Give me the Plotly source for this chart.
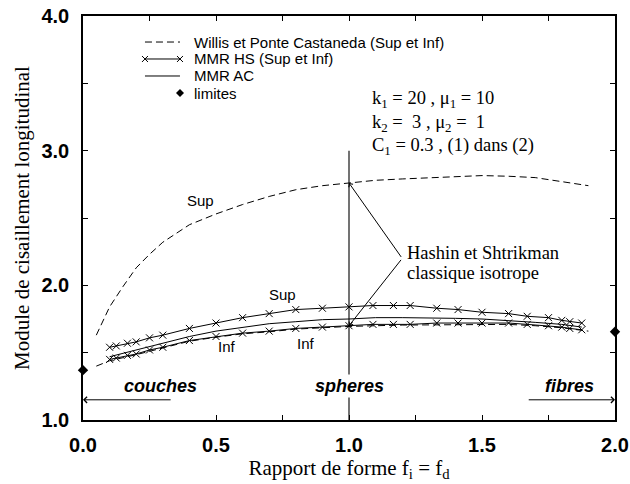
import plotly.graph_objects as go

# ---- data ----
willis_sup_x = [0.05, 0.1, 0.15, 0.2, 0.25, 0.3, 0.4, 0.5, 0.6, 0.7, 0.8, 0.9, 1.0,
                1.1, 1.2, 1.3, 1.4, 1.5, 1.6, 1.7, 1.8, 1.9]
willis_sup_y = [1.63, 1.84, 1.99, 2.13, 2.23, 2.32, 2.45, 2.53, 2.60, 2.66, 2.71, 2.74, 2.76,
                2.78, 2.79, 2.80, 2.81, 2.815, 2.81, 2.80, 2.77, 2.74]
willis_inf_x = [0.05, 0.1, 0.2, 0.3, 0.4, 0.5, 0.6, 0.7, 0.8, 0.9, 1.0, 1.2, 1.4, 1.6, 1.7, 1.8, 1.9]
willis_inf_y = [1.40, 1.44, 1.485, 1.535, 1.585, 1.615, 1.64, 1.655, 1.675, 1.685, 1.695,
                1.705, 1.71, 1.71, 1.70, 1.685, 1.66]

hs_x = [0.10, 0.125, 0.167, 0.20, 0.25, 0.30, 0.40, 0.50, 0.60, 0.70, 0.80, 0.90, 1.00,
        1.09, 1.167, 1.23, 1.33, 1.41, 1.50, 1.60, 1.67, 1.75, 1.80, 1.83, 1.875]
hs_sup = [1.54, 1.55, 1.57, 1.58, 1.61, 1.63, 1.68, 1.72, 1.76, 1.79, 1.82, 1.83, 1.84,
          1.85, 1.85, 1.85, 1.83, 1.82, 1.80, 1.79, 1.77, 1.76, 1.74, 1.73, 1.72]
hs_inf = [1.45, 1.46, 1.48, 1.49, 1.52, 1.54, 1.59, 1.62, 1.645, 1.66, 1.68, 1.69, 1.70,
          1.71, 1.71, 1.71, 1.72, 1.72, 1.72, 1.72, 1.71, 1.70, 1.69, 1.68, 1.67]

ac_x = [0.1, 0.2, 0.3, 0.4, 0.5, 0.6, 0.7, 0.8, 0.9, 1.0, 1.1, 1.2, 1.3, 1.4, 1.5, 1.6,
        1.7, 1.8, 1.875]
ac_y = [1.47, 1.52, 1.575, 1.62, 1.66, 1.69, 1.715, 1.73, 1.745, 1.75, 1.76, 1.76, 1.76,
        1.755, 1.75, 1.74, 1.725, 1.71, 1.69]

lim_x = [0.0, 2.0]
lim_y = [1.37, 1.655]

legend_labels = ["Willis et Ponte Castaneda (Sup et Inf)", "MMR HS (Sup et Inf)",
                 "MMR AC", "limites"]

spheres_x = 1.0
spheres_line_top = 3.0

TIMES = "Liberation Serif, Times New Roman, serif"
HELV = "Liberation Sans, Arial, sans-serif"

fig = go.Figure()

dash = "7px,4px"
fig.add_trace(go.Scatter(x=willis_sup_x, y=willis_sup_y, mode="lines",
                         line=dict(color="black", width=1, dash=dash),
                         name=legend_labels[0], legendgroup="w"))
fig.add_trace(go.Scatter(x=willis_inf_x, y=willis_inf_y, mode="lines",
                         line=dict(color="black", width=1, dash=dash),
                         name=legend_labels[0], legendgroup="w"))
mk = dict(symbol="x-thin", size=7, line=dict(color="black", width=1), color="black")
fig.add_trace(go.Scatter(x=hs_x, y=hs_sup, mode="lines+markers",
                         line=dict(color="black", width=1), marker=mk,
                         name=legend_labels[1], legendgroup="hs"))
fig.add_trace(go.Scatter(x=hs_x, y=hs_inf, mode="lines+markers",
                         line=dict(color="black", width=1), marker=mk,
                         name=legend_labels[1], legendgroup="hs"))
fig.add_trace(go.Scatter(x=ac_x, y=ac_y, mode="lines",
                         line=dict(color="black", width=1), name=legend_labels[2]))
fig.add_trace(go.Scatter(x=lim_x, y=lim_y, mode="markers", cliponaxis=False,
                         marker=dict(symbol="diamond", size=8, color="black"),
                         name=legend_labels[3]))

# vertical line at spheres
fig.add_shape(type="line", x0=spheres_x, x1=spheres_x, y0=1.0, y1=spheres_line_top,
              xref="x", yref="y", line=dict(color="#444", width=1.5), layer="below")

# ---- hand-drawn legend (paper coordinates) ----
PW, PH = 532.0, 404.0
lx0, lx1, ltx = 0.1165, 0.1823, 0.2049
rows = [0.9356, 0.8936, 0.8515, 0.8094]
fig.add_shape(type="line", xref="paper", yref="paper", x0=lx0, x1=lx1, y0=rows[0], y1=rows[0],
              line=dict(color="black", width=1, dash=dash))
fig.add_shape(type="line", xref="paper", yref="paper", x0=lx0, x1=lx1, y0=rows[1], y1=rows[1],
              line=dict(color="black", width=1))
for cx in (lx0, lx1):
    dx, dy = 3 / PW, 3 / PH
    fig.add_shape(type="line", xref="paper", yref="paper", x0=cx - dx, x1=cx + dx,
                  y0=rows[1] - dy, y1=rows[1] + dy, line=dict(color="black", width=1))
    fig.add_shape(type="line", xref="paper", yref="paper", x0=cx - dx, x1=cx + dx,
                  y0=rows[1] + dy, y1=rows[1] - dy, line=dict(color="black", width=1))
fig.add_shape(type="line", xref="paper", yref="paper", x0=lx0, x1=lx1, y0=rows[2], y1=rows[2],
              line=dict(color="black", width=1))
ddx, ddy = 4 / PW, 4 / PH
fig.add_shape(type="path", xref="paper", yref="paper",
              path=f"M {lx1},{rows[3] + ddy} L {lx1 + ddx},{rows[3]} L {lx1},{rows[3] - ddy} "
                   f"L {lx1 - ddx},{rows[3]} Z",
              fillcolor="black", line=dict(color="black", width=0))

ann = []
for lab, ry in zip(legend_labels, rows):
    ann.append(dict(x=ltx, y=ry, xref="paper", yref="paper", text=lab, showarrow=False,
                    xanchor="left", yanchor="middle",
                    font=dict(family=HELV, size=15, color="black")))

def txt(x, y, t, size=15, font=HELV, **kw):
    ann.append(dict(x=x, y=y, xref="x", yref="y", text=t, showarrow=False,
                    font=dict(family=font, size=size, color="black"), **kw))

txt(0.44, 2.63, "Sup")
txt(0.75, 1.93, "Sup")
txt(0.54, 1.545, "Inf")
txt(0.84, 1.57, "Inf")

txt(1.08, 3.38, "k<sub>1</sub> = 20 , μ<sub>1</sub> = 10", size=18.5, font=TIMES, xanchor="left")
txt(1.08, 3.20, "k<sub>2</sub> =  3 , μ<sub>2</sub> =  1", size=18.5, font=TIMES, xanchor="left")
txt(1.08, 3.03, "C<sub>1</sub> = 0.3 , (1) dans (2)", size=18.5, font=TIMES, xanchor="left")

txt(1.21, 2.24, "Hashin et Shtrikman", size=18.5, font=TIMES, xanchor="left")
txt(1.21, 2.09, "classique isotrope", size=18.5, font=TIMES, xanchor="left")

bi = "<b><i>%s</i></b>"
txt(0.29, 1.25, bi % "couches", size=18)
ann.append(dict(x=1.0, y=1.25, xref="x", yref="y", text=bi % "spheres", showarrow=False,
                bgcolor="white", font=dict(family=HELV, size=18, color="black")))
txt(1.83, 1.25, bi % "fibres", size=18)

# arrows
arrow_y = 1.15
ann.append(dict(x=0.0, y=arrow_y, ax=0.335, ay=arrow_y, xref="x", yref="y", axref="x", ayref="y",
                text="", showarrow=True, arrowhead=4, arrowsize=1.2, arrowwidth=1, arrowcolor="black"))
ann.append(dict(x=2.0, y=arrow_y, ax=1.67, ay=arrow_y, xref="x", yref="y", axref="x", ayref="y",
                text="", showarrow=True, arrowhead=4, arrowsize=1.2, arrowwidth=1, arrowcolor="black"))
vx, vy = 1.2, 2.2
ann.append(dict(x=1.0, y=2.76, ax=vx, ay=vy, xref="x", yref="y", axref="x", ayref="y",
                text="", showarrow=True, arrowhead=4, arrowsize=1, arrowwidth=1, arrowcolor="black"))
ann.append(dict(x=1.0, y=1.70, ax=vx, ay=vy, xref="x", yref="y", axref="x", ayref="y",
                text="", showarrow=True, arrowhead=4, arrowsize=1, arrowwidth=1, arrowcolor="black"))

axis_common = dict(showline=True, linecolor="black", linewidth=1.5, mirror="ticks",
                   ticks="inside", ticklen=5, tickcolor="black", tickwidth=1,
                   showgrid=False, zeroline=False, automargin=False,
                   ticklabeloverflow="allow",
                   tickfont=dict(family=HELV, size=20, color="black"))

fig.update_layout(
    width=630, height=484,
    margin=dict(l=83, r=15, t=16, b=64),
    paper_bgcolor="white", plot_bgcolor="white",
    annotations=ann,
    showlegend=False,
    xaxis=dict(range=[0, 2], dtick=0.5, tickformat=".1f", ticklabelstandoff=6,
               tickprefix="<b>", ticksuffix="</b>",
               minor=dict(ticks="inside", dtick=0.25, ticklen=5, tickcolor="black"),
               title=dict(text="Rapport de forme f<sub>i</sub> = f<sub>d</sub>",
                          font=dict(family=TIMES, size=21, color="black"), standoff=3),
               **axis_common),
    yaxis=dict(range=[1, 4], dtick=1, tickformat=".1f", ticklabelstandoff=8,
               tickprefix="<b>", ticksuffix="</b>",
               minor=dict(ticks="inside", dtick=0.5, ticklen=5, tickcolor="black"),
               title=dict(text="Module de cisaillement longitudinal",
                          font=dict(family=TIMES, size=21, color="black"), standoff=6),
               **axis_common),
)

# remove the default 8px page margin so the figure sits at the window's top-left corner
fig.write_html("out.html", config={"displayModeBar": False},
               post_script="document.body.style.margin='0px';")
